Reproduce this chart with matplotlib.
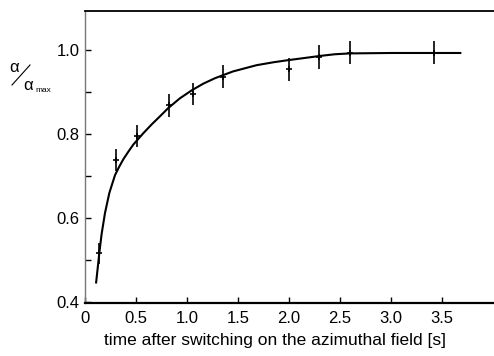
import matplotlib
matplotlib.use("Agg")
import matplotlib.pyplot as plt
from matplotlib.lines import Line2D

plt.rcParams['font.family'] = ['Liberation Sans', 'DejaVu Sans']

# measured points
t_data = [0.134, 0.30, 0.507, 0.82, 1.056, 1.356, 2.0, 2.297, 2.598, 3.425]
a_data = [0.516, 0.738, 0.795, 0.868, 0.895, 0.937, 0.954, 0.983, 0.994, 0.994]
a_err = [0.025, 0.027, 0.027, 0.028, 0.027, 0.028, 0.028, 0.028, 0.027, 0.028]

# fitted curve
t_fit = [0.108, 0.125, 0.140, 0.163, 0.196, 0.239, 0.294, 0.335, 0.376, 0.425,
         0.474, 0.572, 0.654, 0.73, 0.817, 0.93, 1.046, 1.16, 1.275,
         1.45, 1.683, 1.85, 1.993, 2.15, 2.304, 2.45, 2.598, 3.0, 3.69]
a_fit = [0.444, 0.482, 0.516, 0.562, 0.612, 0.660, 0.702, 0.722, 0.740, 0.758,
         0.775, 0.802, 0.823, 0.841, 0.862, 0.885, 0.904, 0.920, 0.933,
         0.949, 0.964, 0.971, 0.976, 0.981, 0.986, 0.990, 0.992, 0.993, 0.993]

x_ticks = [0, 0.5, 1.0, 1.5, 2.0, 2.5, 3.0, 3.5]
x_ticklabels = ['0', '0.5', '1.0', '1.5', '2.0', '2.5', '3.0', '3.5']
y_ticks = [0.4, 0.6, 0.8, 1.0]
y_ticklabels = ['0.4', '0.6', '0.8', '1.0']
y_minor = [0.5, 0.7, 0.9]
x_label = 'time after switching on the azimuthal field [s]'

fig = plt.figure(figsize=(4.94, 3.56), dpi=100)
ax = fig.add_axes([85/494, 53/356, 409/494, 292/356])

ax.plot(t_fit, a_fit, color='black', lw=1.5, solid_capstyle='butt',
        solid_joinstyle='round')
ax.errorbar(t_data, a_data, yerr=a_err, fmt='+', color='black', ms=5,
            mew=1.2, elinewidth=1.2, capsize=0)

ax.set_xlim(0, 4.01)
ax.set_ylim(0.3976, 1.093)
ax.set_xticks(x_ticks)
ax.set_xticklabels(x_ticklabels)
ax.set_yticks(y_ticks)
ax.set_yticklabels(y_ticklabels)
ax.set_yticks(y_minor, minor=True)
ax.tick_params(axis='both', which='both', direction='in', length=4, width=1,
               labelsize=12, colors='black')
ax.tick_params(axis='x', pad=6)
ax.tick_params(axis='y', pad=4)

ax.spines['right'].set_visible(False)
ax.spines['left'].set_color('#777777')
ax.spines['left'].set_linewidth(1.0)
ax.spines['bottom'].set_linewidth(1.6)
ax.spines['top'].set_linewidth(1.3)

fig.text(275/494, 1 - 340/356, x_label, ha='center', va='center', fontsize=12.5)

# y label: alpha / alpha_max
fig.text(14.5/494, 1 - 67/356, 'α', ha='center', va='center', fontsize=12)
fig.add_artist(Line2D([12/494, 30/494], [1 - 85/356, 1 - 65/356],
                      transform=fig.transFigure, color='black', lw=0.8))
fig.text(28/494, 1 - 86/356, 'α', ha='center', va='center', fontsize=12)
fig.text(35/494, 1 - 91/356, 'max', ha='left', va='center', fontsize=6)

fig.savefig('out.png', dpi=100)
